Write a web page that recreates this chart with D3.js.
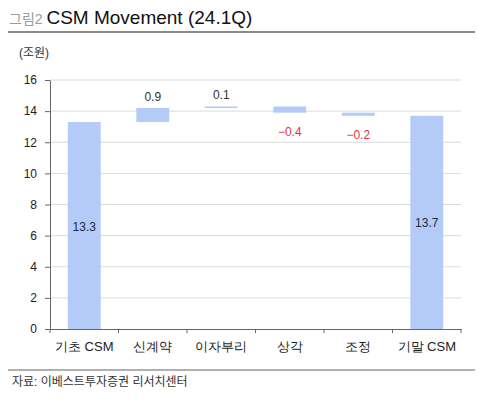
<!DOCTYPE html>
<html>
<head>
<meta charset="utf-8">
<script src="https://cdn.jsdelivr.net/npm/d3@7"></script>
<style>
  body { margin: 0; background: #fff; }
  svg { display: block; font-family: "Liberation Sans", "Noto Sans CJK KR", sans-serif; }
</style>
</head>
<body>
<div id="chart"></div>
<script>
// data
var categories = ['기초 CSM', '신계약', '이자부리', '상각', '조정', '기말 CSM'];
var values = [13.3, 0.9, 0.1, -0.4, -0.2, 13.7];
var kinds = ['total', 'delta', 'delta', 'delta', 'delta', 'total'];
var yTicks = [0, 2, 4, 6, 8, 10, 12, 14, 16];

var width = 491, height = 405;
var margin = { top: 80, right: 30, bottom: 76, left: 50 };

var svg = d3.select('#chart')
    .append('svg')
    .attr('width', width)
    .attr('height', height);

// build waterfall steps
var run = 0;
var steps = categories.map(function (c, i) {
    var v = values[i], lo, hi;
    if (kinds[i] === 'total') {
        lo = 0; hi = v; run = v;
    } else {
        lo = Math.min(run, run + v);
        hi = Math.max(run, run + v);
        run = run + v;
    }
    return { name: c, value: v, kind: kinds[i], lo: lo, hi: hi };
});

var x = d3.scaleBand()
    .domain(categories)
    .range([margin.left, width - margin.right])
    .padding(0);

var y = d3.scaleLinear()
    .domain([0, 16])
    .range([height - margin.bottom, margin.top]);

var barW = x.bandwidth() * 0.48;

// title
var title = svg.append('text')
    .attr('x', 9)
    .attr('y', 24);
title.append('tspan')
    .attr('font-size', 14)
    .attr('fill', '#9a9a9a')
    .text('그림2 ');
title.append('tspan')
    .attr('font-size', 19)
    .attr('fill', '#111')
    .text('CSM Movement (24.1Q)');

svg.append('line')
    .attr('x1', 8).attr('x2', 475)
    .attr('y1', 32).attr('y2', 32)
    .attr('stroke', '#8a8a8a')
    .attr('stroke-width', 2);

svg.append('text')
    .attr('x', 19)
    .attr('y', 57)
    .attr('font-size', 12)
    .attr('fill', '#333')
    .text('(조원)');

// gridlines
svg.append('g')
    .selectAll('line')
    .data(yTicks.filter(function (d) { return d > 0; }))
    .enter()
    .append('line')
    .attr('x1', margin.left)
    .attr('x2', width - margin.right)
    .attr('y1', function (d) { return y(d); })
    .attr('y2', function (d) { return y(d); })
    .attr('stroke', '#dcdcdc')
    .attr('stroke-width', 1);

// bars
svg.append('g')
    .selectAll('rect')
    .data(steps)
    .enter()
    .append('rect')
    .attr('x', function (d) { return x(d.name) + (x.bandwidth() - barW) / 2; })
    .attr('y', function (d) { return y(d.hi); })
    .attr('width', barW)
    .attr('height', function (d) { return Math.max(1.5, y(d.lo) - y(d.hi)); })
    .attr('fill', '#b4cbf8');

// value labels
svg.append('g')
    .selectAll('text')
    .data(steps)
    .enter()
    .append('text')
    .attr('x', function (d) { return x(d.name) + x.bandwidth() / 2; })
    .attr('y', function (d) {
        if (d.kind === 'total') return y(d.hi / 2) + 5;
        if (d.value >= 0) return y(d.hi) - 7;
        return y(d.lo) + 23;
    })
    .attr('text-anchor', 'middle')
    .attr('font-size', 12)
    .attr('fill', function (d) {
        if (d.kind === 'total') return '#1d2a44';
        return d.value >= 0 ? '#333' : '#e8323c';
    })
    .text(function (d) {
        return d.value < 0 ? '\u2212' + Math.abs(d.value).toFixed(1) : d.value.toFixed(1);
    });

// y axis
var yAxis = d3.axisLeft(y)
    .tickValues(yTicks)
    .tickSize(5)
    .tickSizeOuter(0)
    .tickPadding(8);

var gy = svg.append('g')
    .attr('transform', 'translate(' + margin.left + ',0)')
    .call(yAxis);
gy.select('.domain').attr('stroke', '#666');
gy.selectAll('.tick line').attr('stroke', '#666');
gy.selectAll('.tick text')
    .attr('font-size', 12)
    .attr('fill', '#222')
    .attr('font-family', '"Liberation Sans", sans-serif');

// x axis
var xAxis = d3.axisBottom(x)
    .tickSize(0)
    .tickSizeOuter(0)
    .tickPadding(13);

var gx = svg.append('g')
    .attr('transform', 'translate(0,' + y(0) + ')')
    .call(xAxis);
gx.select('.domain').attr('stroke', '#666');
gx.selectAll('.tick text')
    .attr('font-size', 13)
    .attr('fill', '#222');

// tick marks at the band edges
gx.selectAll('.edge')
    .data(d3.range(categories.length + 1))
    .enter()
    .append('line')
    .attr('class', 'edge')
    .attr('x1', function (i) { return margin.left + i * x.step(); })
    .attr('x2', function (i) { return margin.left + i * x.step(); })
    .attr('y1', 0)
    .attr('y2', 4)
    .attr('stroke', '#666');

// source footer
svg.append('line')
    .attr('x1', 8).attr('x2', 475)
    .attr('y1', 370).attr('y2', 370)
    .attr('stroke', '#b0b0b0')
    .attr('stroke-width', 2);

svg.append('text')
    .attr('x', 12)
    .attr('y', 386)
    .attr('font-size', 12)
    .attr('fill', '#333')
    .text('자료: 이베스트투자증권 리서치센터');
</script>
</body>
</html>
